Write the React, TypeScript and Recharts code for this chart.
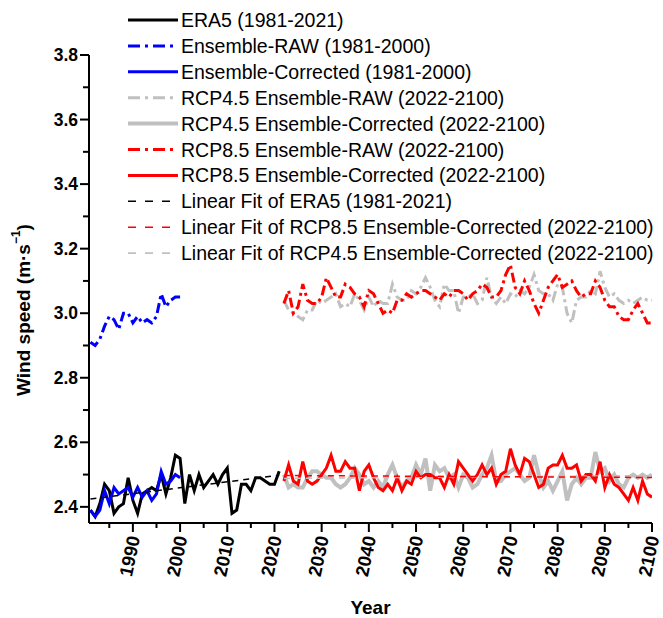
import React from "react";
import { LineChart, Line, XAxis, YAxis, Legend } from "recharts";

const FONT = "'Liberation Sans', Arial, Helvetica, sans-serif";

// ---- data (annual mean wind speed, m/s) ----
const ERA5_START = 1981;
const era5 = [
  2.39, 2.37, 2.41, 2.47, 2.45, 2.38, 2.4, 2.41, 2.49, 2.42,
  2.38, 2.44, 2.45, 2.46, 2.45, 2.5, 2.44, 2.49, 2.56, 2.55,
  2.41, 2.5, 2.45, 2.5, 2.46, 2.48, 2.5, 2.47, 2.5, 2.52,
  2.38, 2.39, 2.47, 2.47, 2.45, 2.49, 2.49, 2.48, 2.47, 2.47,
  2.51,
];

const ENS_START = 1981;
const ensembleRaw = [
  2.91, 2.9, 2.92, 2.96, 2.99, 2.98, 2.95, 3.0, 3.0, 2.97,
  2.99, 2.97, 2.98, 2.97, 2.99, 3.06, 3.02, 3.04, 3.05, 3.05,
];
const ensembleCorrected = [
  2.39, 2.37, 2.39, 2.45, 2.41, 2.46, 2.44, 2.45, 2.46, 2.43,
  2.46, 2.43, 2.45, 2.42, 2.44, 2.51, 2.47, 2.48, 2.5, 2.49,
];

const RCP_START = 2022;
const rcp45Raw = [
  3.04, 3.01, 3.0, 2.99, 2.98, 3.01, 3.01, 3.04, 3.03, 3.04,
  3.05, 3.06, 3.02, 3.03, 3.02, 3.06, 3.04, 3.01, 3.05, 3.02,
  3.04, 3.03, 3.03, 3.09, 3.05, 3.04, 3.04, 3.07, 3.06, 3.08,
  3.11, 3.08, 3.04, 3.02, 3.09, 3.07, 3.07, 3.0, 3.05, 3.05,
  3.06, 3.03, 3.04, 3.11, 3.05, 3.03, 3.05, 3.03, 3.06, 3.05,
  3.07, 3.06, 3.08, 3.12, 3.07, 3.06, 3.06, 3.04, 3.09, 3.08,
  3.0, 2.97, 3.04, 3.05, 3.05, 3.07, 3.06, 3.13, 3.08, 3.05,
  3.06, 3.04, 3.03, 3.04, 3.03, 3.04, 3.05, 3.04, 3.04,
];
const rcp45Corrected = [
  2.5, 2.46, 2.47, 2.46, 2.46, 2.49, 2.51, 2.51, 2.5, 2.49,
  2.49, 2.47, 2.46, 2.47, 2.49, 2.52, 2.5, 2.47, 2.48, 2.46,
  2.48, 2.46, 2.5, 2.53, 2.49, 2.46, 2.48, 2.49, 2.53, 2.5,
  2.55, 2.45, 2.53, 2.51, 2.52, 2.49, 2.5, 2.46, 2.5, 2.49,
  2.46, 2.47, 2.5, 2.52, 2.56, 2.48, 2.48, 2.5, 2.51, 2.52,
  2.5, 2.48, 2.49, 2.56, 2.5, 2.46, 2.48, 2.45, 2.48, 2.51,
  2.42, 2.47, 2.49, 2.47, 2.49, 2.49, 2.57, 2.51, 2.52, 2.48,
  2.5, 2.47, 2.46, 2.49, 2.5, 2.49, 2.5, 2.49, 2.5,
];
const rcp85Raw = [
  3.03, 3.07, 3.0, 3.02, 3.09, 3.04, 3.03, 3.03, 3.05, 3.11,
  3.08, 3.05, 3.05, 3.09, 3.08, 3.06, 3.05, 3.02, 3.07, 3.06,
  3.03, 3.0, 3.01, 3.0, 3.04, 3.04, 3.06, 3.05, 3.06, 3.07,
  3.07, 3.06, 3.05, 3.04, 3.06, 3.05, 3.07, 3.07, 3.06, 3.04,
  3.06, 3.07, 3.09, 3.08, 3.05, 3.05, 3.07, 3.12, 3.15, 3.08,
  3.06, 3.1, 3.07, 3.03, 3.0, 3.04, 3.08, 3.1, 3.12, 3.08,
  3.09, 3.1, 3.07, 3.05, 3.06, 3.06, 3.1, 3.08, 3.04, 3.02,
  3.02, 2.99, 2.98, 2.98, 3.01, 3.03, 3.0, 2.97, 2.97,
];
const rcp85Corrected = [
  2.48, 2.53, 2.48, 2.47, 2.54, 2.48, 2.47, 2.48, 2.5, 2.52,
  2.56, 2.51, 2.51, 2.54, 2.52, 2.52, 2.45, 2.51, 2.53, 2.49,
  2.46, 2.45, 2.47, 2.45, 2.49, 2.45, 2.48, 2.47, 2.51, 2.49,
  2.5, 2.5, 2.49, 2.49, 2.46, 2.5, 2.47, 2.54, 2.52, 2.5,
  2.48, 2.5, 2.53, 2.5, 2.52, 2.47, 2.5, 2.51, 2.58, 2.53,
  2.5, 2.55, 2.54, 2.5, 2.46, 2.47, 2.52, 2.53, 2.53, 2.56,
  2.52, 2.52, 2.53, 2.48, 2.5, 2.5, 2.48, 2.54, 2.46, 2.5,
  2.47, 2.46, 2.44, 2.42, 2.46, 2.42, 2.48, 2.44, 2.43,
];

// linear fits: end points only
const fitEra5Years = [1981, 2021];
const fitEra5 = [2.424, 2.498];
const fitRcpYears = [2022, 2100];
const fitRcp85 = [2.497, 2.491];
const fitRcp45 = [2.488, 2.497];

const xMajorTicks = [1990, 2000, 2010, 2020, 2030, 2040, 2050, 2060, 2070, 2080, 2090, 2100];
const xMinorTicks = [1985, 1995, 2005, 2015, 2025, 2035, 2045, 2055, 2065, 2075, 2085, 2095];
const yMajorTicks = [2.4, 2.6, 2.8, 3.0, 3.2, 3.4, 3.6, 3.8];
const yMinorTicks = [2.5, 2.7, 2.9, 3.1, 3.3, 3.5, 3.7];

// ---- build one table keyed by year ----
const rowsByYear = new Map<number, Record<string, number>>();
function putSeries(key: string, start: number, values: number[]) {
  values.forEach((v, i) => {
    const year = start + i;
    const row = rowsByYear.get(year) ?? { year };
    row[key] = v;
    rowsByYear.set(year, row);
  });
}
function putPoints(key: string, years: number[], values: number[]) {
  years.forEach((year, i) => {
    const row = rowsByYear.get(year) ?? { year };
    row[key] = values[i];
    rowsByYear.set(year, row);
  });
}
putSeries("era5", ERA5_START, era5);
putSeries("ensRaw", ENS_START, ensembleRaw);
putSeries("ensCorr", ENS_START, ensembleCorrected);
putSeries("rcp45Raw", RCP_START, rcp45Raw);
putSeries("rcp45Corr", RCP_START, rcp45Corrected);
putSeries("rcp85Raw", RCP_START, rcp85Raw);
putSeries("rcp85Corr", RCP_START, rcp85Corrected);
putPoints("fitEra5", fitEra5Years, fitEra5);
putPoints("fitRcp85", fitRcpYears, fitRcp85);
putPoints("fitRcp45", fitRcpYears, fitRcp45);
const chartData = [...rowsByYear.values()].sort((a, b) => a.year - b.year);

const BLUE = "#0000ff";
const RED = "#ff0000";
const GRAY = "#c0c0c0";
const DASH_DOT = "10 4 3 4";
const FIT_DASH = "6 5";

type SeriesDef = {
  key: string;
  name: string;
  color: string;
  width: number;
  dash?: string;
  legendDash?: string;
  fit?: boolean;
};

const SERIES: SeriesDef[] = [
  { key: "era5", name: "ERA5 (1981-2021)", color: "#000000", width: 3 },
  { key: "ensRaw", name: "Ensemble-RAW (1981-2000)", color: BLUE, width: 3, dash: DASH_DOT, legendDash: "12 5 3 5" },
  { key: "ensCorr", name: "Ensemble-Corrected (1981-2000)", color: BLUE, width: 3 },
  { key: "rcp45Raw", name: "RCP4.5 Ensemble-RAW (2022-2100)", color: GRAY, width: 3, dash: DASH_DOT, legendDash: "12 5 3 5" },
  { key: "rcp45Corr", name: "RCP4.5 Ensemble-Corrected (2022-2100)", color: GRAY, width: 4 },
  { key: "rcp85Raw", name: "RCP8.5 Ensemble-RAW (2022-2100)", color: RED, width: 3, dash: DASH_DOT, legendDash: "12 5 3 5" },
  { key: "rcp85Corr", name: "RCP8.5 Ensemble-Corrected (2022-2100)", color: RED, width: 3 },
  { key: "fitEra5", name: "Linear Fit of ERA5 (1981-2021)", color: "#000000", width: 1.5, dash: FIT_DASH, legendDash: "8 9", fit: true },
  { key: "fitRcp85", name: "Linear Fit of RCP8.5 Ensemble-Corrected (2022-2100)", color: RED, width: 1.5, dash: FIT_DASH, legendDash: "8 9", fit: true },
  { key: "fitRcp45", name: "Linear Fit of RCP4.5 Ensemble-Corrected (2022-2100)", color: GRAY, width: 1.5, dash: FIT_DASH, legendDash: "8 9", fit: true },
];
// gray fit sits under the red one
const DRAW_ORDER = ["era5", "ensRaw", "ensCorr", "rcp45Raw", "rcp45Corr", "rcp85Raw", "rcp85Corr", "fitEra5", "fitRcp45", "fitRcp85"];

function LegendBox() {
  return (
    <svg width={663} height={270} style={{ display: "block" }}>
      {SERIES.map((s, i) => {
        const y = 20 + i * 25.9;
        return (
          <g key={s.key}>
            <line x1={128} x2={178} y1={y} y2={y} stroke={s.color} strokeWidth={s.fit ? 1.6 : s.width} strokeDasharray={s.legendDash} />
            <text x={181} y={y} dominantBaseline="central" fontSize={19.5} fontFamily={FONT} fill="#000">
              {s.name}
            </text>
          </g>
        );
      })}
    </svg>
  );
}

function XTick(props: any) {
  const { x, y, payload } = props;
  const major = xMajorTicks.includes(payload.value);
  const ax = x + 1;
  const ay = y + 13;
  return (
    <g>
      <line x1={x} x2={x} y1={y} y2={y + (major ? 9 : 5)} stroke="#000" strokeWidth={2} />
      {major && (
        <text
          x={ax}
          y={ay}
          textAnchor="end"
          dominantBaseline="central"
          transform={`rotate(-78 ${ax} ${ay})`}
          fontSize={18.5}
          fontWeight="bold"
          fontFamily={FONT}
          fill="#000"
        >
          {payload.value}
        </text>
      )}
    </g>
  );
}

function YTick(props: any) {
  const { x, y, payload } = props;
  const major = yMajorTicks.some((t) => Math.abs(t - payload.value) < 1e-6);
  return (
    <g>
      <line x1={x - (major ? 9 : 6)} x2={x} y1={y} y2={y} stroke="#000" strokeWidth={2} />
      {major && (
        <text x={x - 11} y={y} textAnchor="end" dominantBaseline="central" fontSize={17.5} fontWeight="bold" fontFamily={FONT} fill="#000">
          {payload.value.toFixed(1)}
        </text>
      )}
    </g>
  );
}

function YTitle(props: any) {
  const { viewBox } = props;
  const cx = viewBox.x + 23;
  const cy = viewBox.y + viewBox.height / 2 + 21;
  return (
    <text
      x={cx}
      y={cy}
      textAnchor="middle"
      dominantBaseline="central"
      transform={`rotate(-90 ${cx} ${cy})`}
      fontSize={19}
      fontWeight="bold"
      fontFamily={FONT}
      fill="#000"
    >
      Wind speed (m·s
      <tspan dy={-7} fontSize={12}>−1</tspan>
      <tspan dy={7}>)</tspan>
    </text>
  );
}

function XTitle(props: any) {
  const { viewBox } = props;
  return (
    <text
      x={viewBox.x + viewBox.width / 2}
      y={viewBox.y + 84}
      textAnchor="middle"
      dominantBaseline="central"
      fontSize={19}
      fontWeight="bold"
      fontFamily={FONT}
      fill="#000"
    >
      Year
    </text>
  );
}

const xTicks = [...xMajorTicks, ...xMinorTicks].sort((a, b) => a - b);
const yTicks = [...yMajorTicks, ...yMinorTicks].sort((a, b) => a - b);

export default function App() {
  return (
    <div style={{ width: 663, height: 618, background: "#fff", fontFamily: FONT }}>
      <style>{"body{margin:0}"}</style>
      <LineChart width={663} height={618} data={chartData} margin={{ top: 55, right: 11, bottom: 0, left: 0 }}>
        <XAxis
          dataKey="year"
          type="number"
          domain={[1980.7, 2100]}
          ticks={xTicks}
          interval={0}
          tickSize={0}
          tickMargin={0}
          tickLine={false}
          tick={<XTick />}
          axisLine={{ stroke: "#000", strokeWidth: 2 }}
          height={95}
          allowDataOverflow
          label={<XTitle />}
        />
        <YAxis
          type="number"
          domain={[2.35, 3.8]}
          ticks={yTicks}
          interval={0}
          tickSize={0}
          tickMargin={0}
          tickLine={false}
          tick={<YTick />}
          axisLine={{ stroke: "#000", strokeWidth: 2 }}
          width={89}
          allowDataOverflow
          label={<YTitle />}
        />
        <Legend
          layout="vertical"
          align="center"
          verticalAlign="middle"
          wrapperStyle={{ left: 0, top: 0, width: 663 }}
          content={<LegendBox />}
        />
        {DRAW_ORDER.map((k) => {
          const s = SERIES.find((d) => d.key === k)!;
          return (
            <Line
              key={s.key}
              dataKey={s.key}
              name={s.name}
              type="linear"
              stroke={s.color}
              strokeWidth={s.width}
              strokeDasharray={s.dash}
              dot={false}
              activeDot={false}
              connectNulls={!!s.fit}
              isAnimationActive={false}
            />
          );
        })}
      </LineChart>
    </div>
  );
}
